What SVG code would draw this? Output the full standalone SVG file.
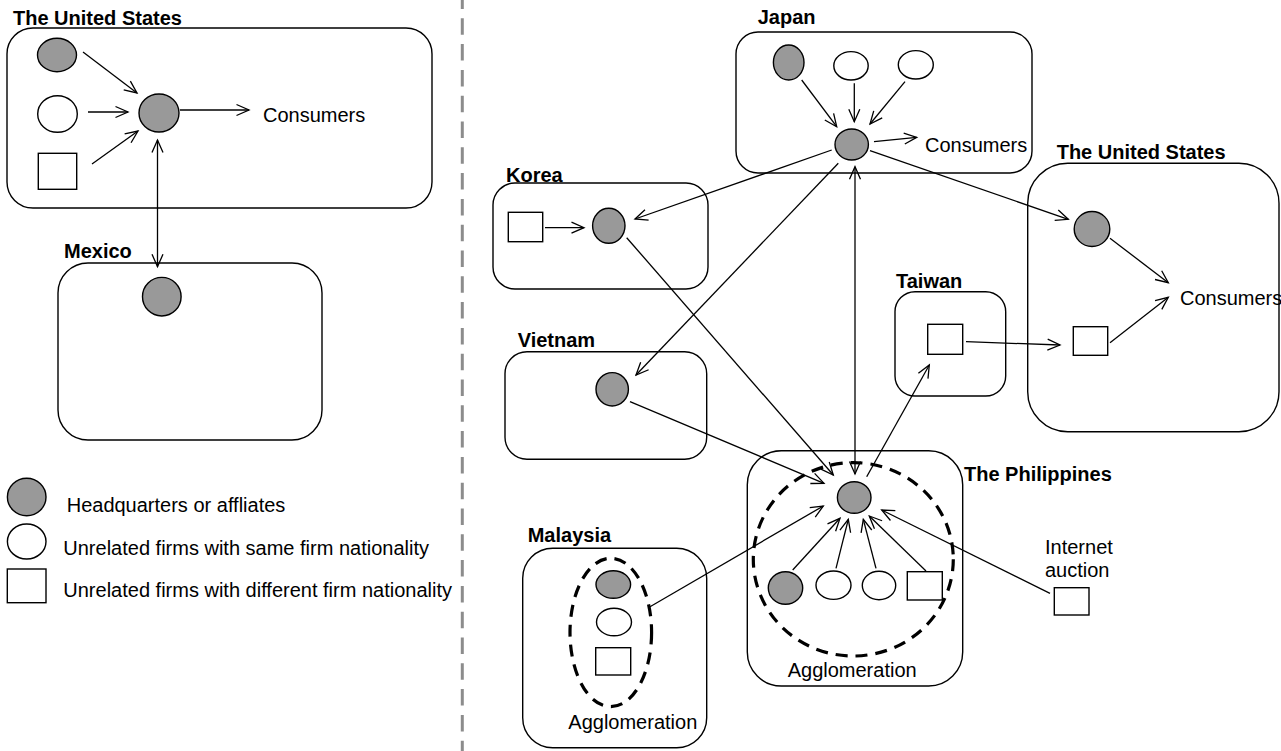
<svg xmlns="http://www.w3.org/2000/svg" width="1281" height="751" viewBox="0 0 1281 751">
<style>
.box{fill:none;stroke:#000;stroke-width:1.4}
.hq{fill:#999;stroke:#000;stroke-width:1.4}
.same{fill:#fff;stroke:#000;stroke-width:1.4}
.diff{fill:#fff;stroke:#000;stroke-width:1.4}
.agg{fill:none;stroke:#000;stroke-width:3.2;stroke-dasharray:12 8}
.t{font-family:"Liberation Sans",Arial,sans-serif;font-size:20px;fill:#000}
.b{font-family:"Liberation Sans",Arial,sans-serif;font-size:20px;font-weight:bold;fill:#000}
.c line{stroke:#000;stroke-width:1.3;marker-end:url(#a)}
.c line.d{marker-start:url(#a)}
.c line.n{marker-end:none}
</style>
<defs>
<marker id="a" viewBox="-14 -8 16 16" refX="0" refY="0" markerWidth="16" markerHeight="16" markerUnits="userSpaceOnUse" orient="auto-start-reverse">
<path d="M-12.5,-5.5 L0,0 L-12.5,5.5" fill="none" stroke="#000" stroke-width="1.3"/>
</marker>
</defs>
<rect width="1281" height="751" fill="#fff"/>
<line x1="462.3" y1="0" x2="462.3" y2="751" stroke="#8c8c8c" stroke-width="3" stroke-dasharray="16.5 9.3" stroke-dashoffset="7.5"/>

<g id="us-left">
<text class="b" x="13" y="25">The United States</text>
<rect class="box" x="7" y="28" width="425" height="180" rx="26"/>
<ellipse class="hq" cx="57" cy="55" rx="19.5" ry="16.7"/>
<ellipse class="same" cx="57.5" cy="114" rx="19.8" ry="18.3"/>
<rect class="diff" x="38.3" y="153.3" width="38.4" height="36"/>
<ellipse class="hq" cx="159" cy="113" rx="20" ry="19"/>
<text class="t" x="263" y="122">Consumers</text>
</g>

<g id="mexico">
<text class="b" x="64" y="258">Mexico</text>
<rect class="box" x="58" y="263" width="264" height="177" rx="30"/>
<circle class="hq" cx="161.8" cy="296.7" r="19.3"/>
</g>

<g id="legend">
<ellipse class="hq" cx="26.7" cy="497" rx="19.3" ry="18.7"/>
<text class="t" x="66.7" y="511.7">Headquarters or affliates</text>
<ellipse class="same" cx="26.7" cy="541.5" rx="19.3" ry="17.5"/>
<text class="t" x="63.3" y="555">Unrelated firms with same firm nationality</text>
<rect class="diff" x="7.3" y="569" width="38.7" height="33.7"/>
<text class="t" x="63.3" y="596.7">Unrelated firms with different firm nationality</text>
</g>

<g id="japan">
<text class="b" x="757.7" y="24">Japan</text>
<rect class="box" x="736" y="32" width="296" height="141" rx="22"/>
<ellipse class="hq" cx="788.7" cy="62.5" rx="15.3" ry="17.5"/>
<ellipse class="same" cx="851" cy="65.8" rx="17.2" ry="14.2"/>
<ellipse class="same" cx="915.8" cy="64.8" rx="17.5" ry="14.2"/>
<ellipse class="hq" cx="851.7" cy="144.5" rx="16.7" ry="15.5"/>
<text class="t" x="925" y="151.7">Consumers</text>
</g>

<g id="korea">
<text class="b" x="506" y="181.7">Korea</text>
<rect class="box" x="493" y="183" width="215" height="106" rx="22"/>
<rect class="diff" x="508.3" y="212.3" width="34.4" height="29.4"/>
<ellipse class="hq" cx="608.8" cy="225.8" rx="16.2" ry="17.5"/>
</g>

<g id="vietnam">
<text class="b" x="517.7" y="346.7">Vietnam</text>
<rect class="box" x="505" y="351.7" width="201.7" height="107.6" rx="22"/>
<ellipse class="hq" cx="612.2" cy="389.3" rx="16.2" ry="16.7"/>
</g>

<g id="taiwan">
<text class="b" x="896" y="288.3">Taiwan</text>
<rect class="box" x="895" y="291.7" width="110.7" height="104.3" rx="20"/>
<rect class="diff" x="927.7" y="324.3" width="35" height="30"/>
</g>

<g id="us-right">
<text class="b" x="1056.7" y="159.3">The United States</text>
<rect class="box" x="1027.7" y="163.3" width="251.3" height="268.4" rx="40"/>
<ellipse class="hq" cx="1092" cy="229" rx="17.8" ry="17.5"/>
<rect class="diff" x="1073.3" y="326.7" width="34.4" height="28.6"/>
<text class="t" x="1180" y="305">Consumers</text>
</g>

<g id="philippines">
<text class="b" x="964" y="480.7">The Philippines</text>
<rect class="box" x="747.3" y="450.7" width="215.4" height="235.3" rx="34"/>
<ellipse class="agg" cx="853.3" cy="559.3" rx="100" ry="96.7"/>
<ellipse class="hq" cx="854.2" cy="497.5" rx="16.8" ry="15.8"/>
<ellipse class="hq" cx="785.5" cy="588" rx="17.2" ry="16.3"/>
<ellipse class="same" cx="833.5" cy="585.2" rx="17.5" ry="14.2"/>
<ellipse class="same" cx="879" cy="585.5" rx="16.7" ry="14.2"/>
<rect class="diff" x="907.3" y="571.7" width="35" height="28.3"/>
<text class="t" x="787.7" y="677.3">Agglomeration</text>
</g>

<g id="internet-auction">
<text class="t" x="1045" y="554.3">Internet</text>
<text class="t" x="1045" y="577.3">auction</text>
<rect class="diff" x="1054.3" y="587.7" width="34.7" height="27.3"/>
</g>

<g id="malaysia">
<text class="b" x="527.7" y="542.3">Malaysia</text>
<rect class="box" x="522.7" y="548.3" width="184" height="199.4" rx="30"/>
<ellipse class="agg" cx="610.8" cy="632.5" rx="40.8" ry="74.2"/>
<ellipse class="hq" cx="613.3" cy="584.5" rx="17.3" ry="13.8"/>
<ellipse class="same" cx="614" cy="622" rx="17.5" ry="13.8"/>
<rect class="diff" x="595.7" y="647.7" width="35" height="27.3"/>
<text class="t" x="568.3" y="729.3">Agglomeration</text>
</g>

<g id="connectors" class="c">
<line x1="83" y1="52" x2="137" y2="93"/>
<line x1="88" y1="112" x2="128" y2="112"/>
<line x1="92" y1="164" x2="138" y2="131"/>
<line x1="180" y1="110" x2="249" y2="110"/>
<line class="d" x1="157.5" y1="140" x2="157.5" y2="266.7"/>

<line x1="801.7" y1="80" x2="836.7" y2="126.7"/>
<line x1="854.3" y1="83.3" x2="854.3" y2="121.7"/>
<line x1="905" y1="81.7" x2="870" y2="124"/>
<line x1="874" y1="141.7" x2="916.7" y2="137.3"/>
<line x1="831.7" y1="150" x2="635" y2="219"/>
<line x1="838.3" y1="163.3" x2="636" y2="375"/>
<line x1="870" y1="150.7" x2="1068.3" y2="219.3"/>
<line class="d" x1="855" y1="166.7" x2="855" y2="474"/>

<line x1="545" y1="227.7" x2="584" y2="227.7"/>
<line x1="626.7" y1="237.7" x2="833.3" y2="475"/>
<line x1="630" y1="401.7" x2="824" y2="483.3"/>
<line x1="650" y1="606.7" x2="823.3" y2="506"/>

<line x1="866.7" y1="476.7" x2="929.3" y2="365"/>
<line x1="966" y1="341.7" x2="1060" y2="345"/>
<line x1="1110" y1="238.3" x2="1168.3" y2="282.7"/>
<line x1="1110" y1="342.7" x2="1168.3" y2="297.3"/>

<line x1="792.7" y1="570" x2="840" y2="518.3"/>
<line x1="836" y1="568.3" x2="848.3" y2="519.3"/>
<line x1="876" y1="568.3" x2="863.3" y2="519.3"/>
<line x1="926" y1="571" x2="869.3" y2="516"/>
<line x1="1050" y1="593.3" x2="881.7" y2="510"/>
</g>
</svg>
